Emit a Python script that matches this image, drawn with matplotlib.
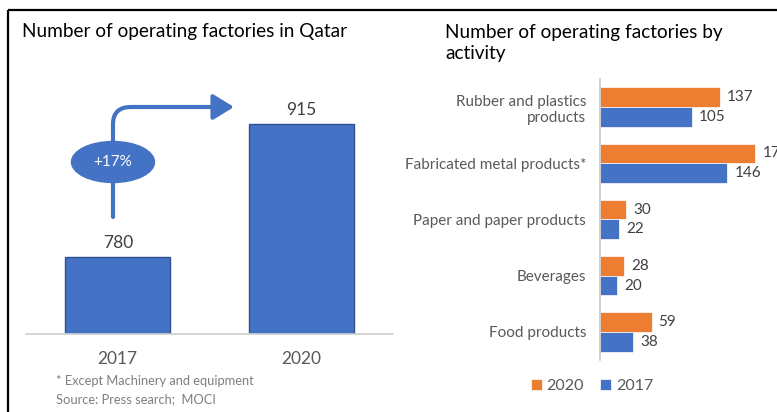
import matplotlib.pyplot as plt
from matplotlib.patches import Ellipse, FancyArrowPatch
from matplotlib.path import Path

plt.rcParams['font.family'] = ['Lato', 'DejaVu Sans']

# Data
years = ['2017', '2020']
totals = [780, 915]
growth_label = '+17%'

activities = ['Rubber and plastics\nproducts', 'Fabricated metal products*',
              'Paper and paper products', 'Beverages', 'Food products']
val_2020 = [137, 178, 30, 28, 59]
val_2017 = [105, 146, 22, 20, 38]

BLUE = '#4472C4'
ORANGE = '#ED7D31'
GREY = '#595959'

W, H = 777, 412
fig = plt.figure(figsize=(W / 100, H / 100), dpi=100)


def box(x0, y0, x1, y1):
    # pixel box (top-left origin) -> figure fraction rect
    return [x0 / W, 1 - y1 / H, (x1 - x0) / W, (y1 - y0) / H]


# ---- left panel: totals ----
ax1 = fig.add_axes(box(26, 60, 393, 334))
ax1.bar(range(len(years)), totals, width=0.57, color=BLUE, edgecolor='#2F528F', linewidth=1)
ax1.set_xlim(-0.5, 1.5)
ax1.set_ylim(702, 980)
for i, v in enumerate(totals):
    ax1.text(i, v + 6, str(v), ha='center', va='bottom', fontsize=12.5, color='#404040')
ax1.set_xticks(range(len(years)))
ax1.set_xticklabels(years, fontsize=12.5, color=GREY)
ax1.tick_params(length=0, pad=12)
ax1.set_yticks([])
for s in ['top', 'right', 'left']:
    ax1.spines[s].set_visible(False)
ax1.spines['bottom'].set_color('#D0D0D0')
ax1.spines['bottom'].set_linewidth(1.2)

# ---- right panel: by activity ----
ax2 = fig.add_axes(box(600, 79, 777, 360))
ypos = list(range(len(activities)))
h = 0.35
ax2.barh([y - h / 2 for y in ypos], val_2020, height=h, color=ORANGE, label='2020',
         edgecolor='white', linewidth=0.5)
ax2.barh([y + h / 2 for y in ypos], val_2017, height=h, color=BLUE, label='2017',
         edgecolor='white', linewidth=0.5)
ax2.set_ylim(4.5, -0.5)
ax2.set_xlim(0, 202.7)
for y, a, b in zip(ypos, val_2020, val_2017):
    ax2.text(a + 8, y - h / 2, str(a), va='center', fontsize=11, color='#404040', clip_on=False)
    ax2.text(b + 8, y + h / 2, str(b), va='center', fontsize=11, color='#404040', clip_on=False)
ax2.set_yticks(ypos)
ax2.set_yticklabels(activities, fontsize=11, color=GREY, ha='right')
ax2.tick_params(length=0, pad=10)
ax2.set_xticks([])
for s in ['top', 'right', 'bottom']:
    ax2.spines[s].set_visible(False)
ax2.spines['left'].set_color('#C8C8C8')
ax2.spines['left'].set_linewidth(1.2)
ax2.legend(loc='center', bbox_to_anchor=(592 / W, 1 - 386 / H), bbox_transform=fig.transFigure,
           ncol=2, frameon=False, fontsize=11.5, handlelength=0.7, handleheight=0.7,
           handletextpad=0.3, columnspacing=1.0, labelcolor=GREY)

# ---- overlay: titles, arrow, frame, notes (pixel coordinates) ----
ov = fig.add_axes([0, 0, 1, 1], zorder=5)
ov.set_xlim(0, W)
ov.set_ylim(H, 0)
ov.axis('off')
ov.patch.set_alpha(0)

ov.plot([8, W], [10, 10], color='black', lw=1.6, solid_capstyle='butt')
ov.plot([8, 8], [10, H], color='black', lw=1.6, solid_capstyle='butt')

ov.text(22, 31, 'Number of operating factories in Qatar', fontsize=13.7, va='center', color='black')
ov.text(445, 43, 'Number of operating factories by\nactivity', fontsize=13.7, va='center',
        color='black', linespacing=1.25)

ov.text(56, 381, '* Except Machinery and equipment', fontsize=9.3, va='center', color='#7F7F7F')
ov.text(56, 399, 'Source: Press search;  MOCI', fontsize=9.3, va='center', color='#7F7F7F')

path = Path([(113, 217), (113, 124), (113, 107), (131, 107), (234, 107)],
            [Path.MOVETO, Path.LINETO, Path.CURVE3, Path.CURVE3, Path.LINETO])
arrow = FancyArrowPatch(path=path, arrowstyle='-|>,head_length=0.9,head_width=0.55',
                        color=BLUE, lw=3, mutation_scale=14)
ov.add_patch(arrow)
ov.add_patch(Ellipse((113, 162), 83, 41, color=BLUE, zorder=6))
ov.text(113, 162, growth_label, ha='center', va='center', color='white', fontsize=11, zorder=7)

fig.savefig('out.png', dpi=100)
